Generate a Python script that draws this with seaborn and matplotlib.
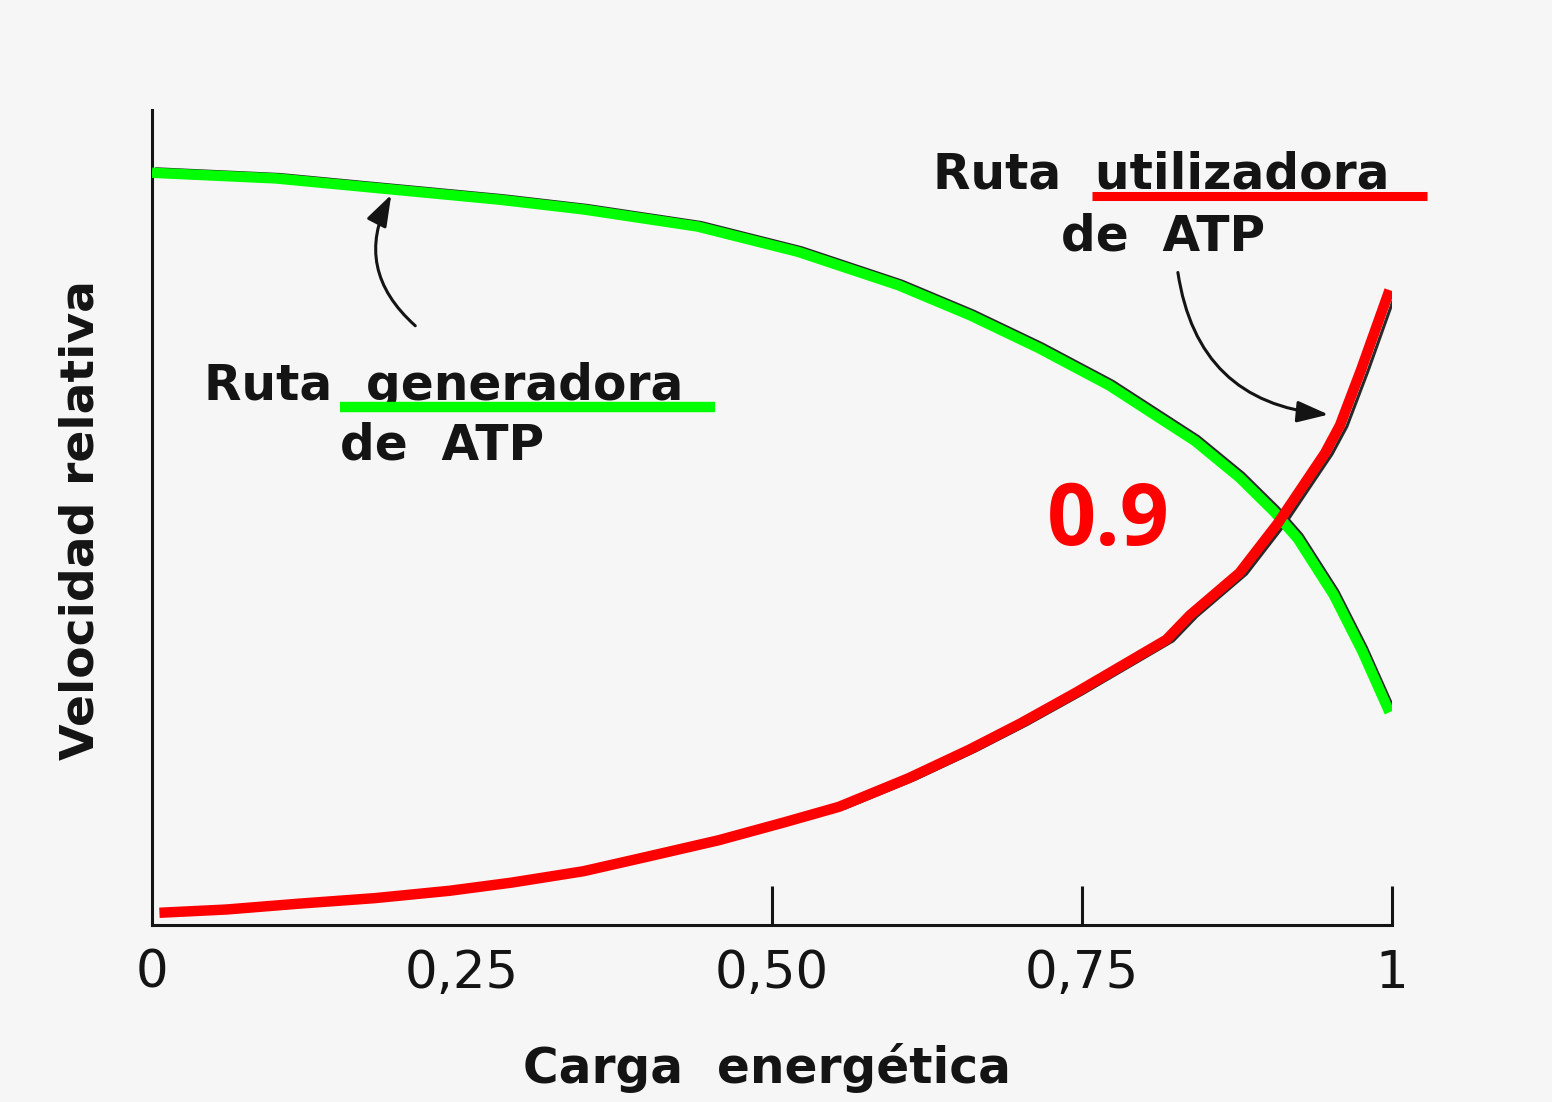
import matplotlib
matplotlib.use("Agg")
import matplotlib.pyplot as plt
import matplotlib.transforms as mtransforms
import seaborn as sns
import pandas as pd

# Carga energetica (x) and velocidad relativa (y)
carga_gen = [0.0, 0.10, 0.19, 0.28, 0.348, 0.44, 0.521, 0.602, 0.66, 0.715, 0.772, 0.841,
             0.877, 0.905, 0.924, 0.953, 0.976, 0.998]
vel_gen = [0.923, 0.916, 0.903, 0.890, 0.878, 0.857, 0.826, 0.785, 0.748, 0.708, 0.662, 0.594,
           0.549, 0.507, 0.474, 0.405, 0.336, 0.261]

carga_util = [0.006, 0.06, 0.117, 0.18, 0.240, 0.29, 0.348, 0.40, 0.457, 0.51, 0.554, 0.61,
              0.659, 0.70, 0.745, 0.818, 0.837, 0.877, 0.908, 0.946, 0.958, 0.975, 0.998]
vel_util = [0.015, 0.019, 0.026, 0.033, 0.042, 0.052, 0.066, 0.084, 0.104, 0.126, 0.145, 0.180,
            0.215, 0.247, 0.285, 0.350, 0.380, 0.432, 0.493, 0.579, 0.613, 0.681, 0.779]

tick_pos = [0, 0.25, 0.5, 0.75, 1]
tick_labels = ["0", "0,25", "0,50", "0,75", "1"]
marked_ticks = [0.5, 0.75, 1]

df_gen = pd.DataFrame({"carga": carga_gen, "vel": vel_gen})
df_util = pd.DataFrame({"carga": carga_util, "vel": vel_util})

sns.set_theme(style="white")
plt.rcParams['font.family'] = ['DejaVu Sans']

bg = "#f6f6f6"
ink = "#141414"
fig = plt.figure(figsize=(15.52, 11.02), dpi=100, facecolor=bg)
ax = fig.add_axes([152 / 1552, 177 / 1102, 1240 / 1552, 815 / 1102])
ax.set_facecolor(bg)

# faint black original curves from the scan, slightly offset
off_gen = ax.transData + mtransforms.ScaledTranslation(4 / 100, 4 / 100, fig.dpi_scale_trans)
off_util = ax.transData + mtransforms.ScaledTranslation(7 / 100, -1 / 100, fig.dpi_scale_trans)
ax.plot(df_gen.carga, df_gen.vel, color="#2a2a2a", lw=2.2, transform=off_gen, zorder=2,
        solid_joinstyle="round")
ax.plot(df_util.carga, df_util.vel, color="#2a2a2a", lw=2.2, transform=off_util, zorder=2,
        solid_joinstyle="round")

sns.lineplot(data=df_gen, x="carga", y="vel", ax=ax, color="#00ff00", lw=7.5,
             sort=False, zorder=3, solid_capstyle="butt", solid_joinstyle="round")
sns.lineplot(data=df_util, x="carga", y="vel", ax=ax, color="#ff0000", lw=7.5,
             sort=False, zorder=4, solid_capstyle="butt", solid_joinstyle="round")

ax.set_xlim(0, 1)
ax.set_ylim(0, 1)
for s in ["top", "right"]:
    ax.spines[s].set_visible(False)
for s in ["left", "bottom"]:
    ax.spines[s].set_color(ink)
    ax.spines[s].set_linewidth(2.2)

ax.set_yticks([])
ax.set_xticks(tick_pos)
ax.set_xticklabels(tick_labels)
ax.xaxis.remove_overlapping_locs = False
ax.set_xticks(marked_ticks, minor=True)
ax.tick_params(axis="x", which="major", length=0, pad=17, labelsize=37, labelcolor=ink)
ax.tick_params(axis="x", which="minor", direction="in", length=28, width=2.2, color=ink, bottom=True)

ax.set_xlabel("Carga  energética", fontsize=35, fontweight="bold", color=ink)
ax.xaxis.set_label_coords(0.496, -0.176)
ax.xaxis.label.set_va("center")
ax.set_ylabel("Velocidad relativa", fontsize=34, fontweight="bold", color=ink)
ax.yaxis.set_label_coords(-0.057, 0.497)
ax.yaxis.label.set_va("center")

txt = dict(fontsize=35, fontweight="bold", color=ink, va="baseline", ha="left")
ax.text(0.042, 0.644, "Ruta  generadora", **txt)
ax.text(0.152, 0.571, "de  ATP", **txt)
ax.text(0.630, 0.904, "Ruta  utilizadora", **txt)
ax.text(0.733, 0.828, "de  ATP", **txt)

ax.hlines(0.635, 0.152, 0.454, color="#00ff00", lw=7.5, zorder=5)
ax.hlines(0.894, 0.758, 1.028, color="#ff0000", lw=6.5, zorder=5, clip_on=False)

ax.text(0.722, 0.466, "0.9", fontsize=62, fontweight="bold", color="#ff0000",
        family=["Open Sans", "DejaVu Sans"], va="baseline", ha="left", zorder=6)

arrow = dict(arrowstyle="-|>,head_length=1.6,head_width=0.55", color=ink, lw=2.2)
ax.annotate("", xy=(0.194, 0.899), xytext=(0.214, 0.733),
            arrowprops=dict(connectionstyle="arc3,rad=-0.4", **arrow))
ax.annotate("", xy=(0.951, 0.626), xytext=(0.827, 0.804),
            arrowprops=dict(connectionstyle="arc3,rad=0.4", **arrow))

fig.savefig("out.png", dpi=100, facecolor=bg)
